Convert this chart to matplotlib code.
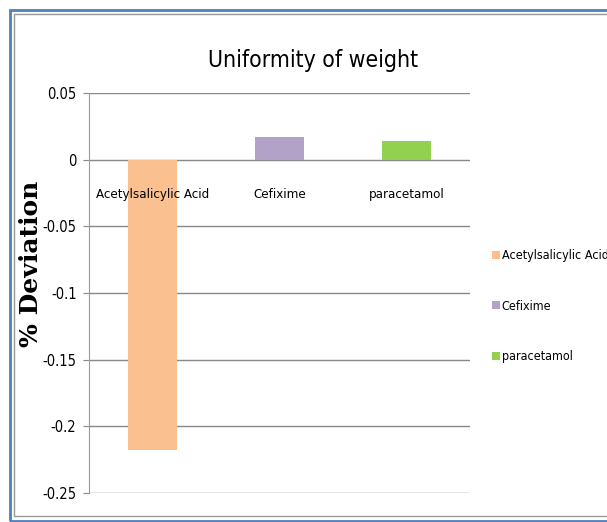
import matplotlib
matplotlib.use("Agg")
import matplotlib.pyplot as plt
from matplotlib.patches import Rectangle

drugs = ["Acetylsalicylic Acid", "Cefixime", "paracetamol"]
deviation = [-0.218, 0.017, 0.014]
colors = ["#fac090", "#b3a2c7", "#92d050"]
yticks = [0.05, 0, -0.05, -0.1, -0.15, -0.2, -0.25]
ytick_labels = ["0.05", "0", "-0.05", "-0.1", "-0.15", "-0.2", "-0.25"]

fig = plt.figure(figsize=(6.07, 5.22), dpi=100)
ax = fig.add_axes([89 / 607, 1 - 493 / 522, (470 - 89) / 607, (493 - 93) / 522])

for i in range(len(drugs)):
    ax.bar(i, deviation[i], width=0.39, color=colors[i], label=drugs[i], zorder=3)
    ax.text(i, -0.026, drugs[i], ha="center", va="center", fontsize=9.5, stretch="condensed", zorder=4)

ax.set_xlim(-0.5, 2.5)
ax.set_ylim(-0.25, 0.05)
ax.set_xticks([])
ax.set_yticks(yticks)
ax.set_yticklabels(ytick_labels, fontsize=10.5, stretch="condensed")
ax.tick_params(axis="y", length=4, color="#888888", direction="out", pad=5)
ax.grid(axis="y", color="#888888", linewidth=1, zorder=0)
for s in ["top", "right", "bottom"]:
    ax.spines[s].set_visible(False)
ax.spines["left"].set_color("#999999")

ax.set_ylabel("% Deviation", family=["DejaVu Serif"], fontweight="bold", fontsize=18)
ax.yaxis.set_label_coords(-0.12, 0.573)
fig.text(313 / 607, 1 - 61 / 522, "Uniformity of weight", ha="center", va="center",
         fontsize=16.5, stretch="condensed")

fig.legend(loc="upper left", bbox_to_anchor=(481 / 607, 1 - 238 / 522), frameon=False,
           prop={"size": 9, "stretch": "condensed"}, handlelength=0.6, handleheight=0.6,
           handletextpad=0.15, labelspacing=3.0)

# frame around the chart
fig.add_artist(Rectangle((10 / 607, 1 - 521 / 522), 1.0, 511 / 522, transform=fig.transFigure,
                         fill=False, edgecolor="#4f81bd", linewidth=2))
fig.add_artist(Rectangle((14 / 607, 1 - 516 / 522), 1.0, 502 / 522, transform=fig.transFigure,
                         fill=False, edgecolor="#999999", linewidth=1))

fig.savefig("out.png", dpi=100)
